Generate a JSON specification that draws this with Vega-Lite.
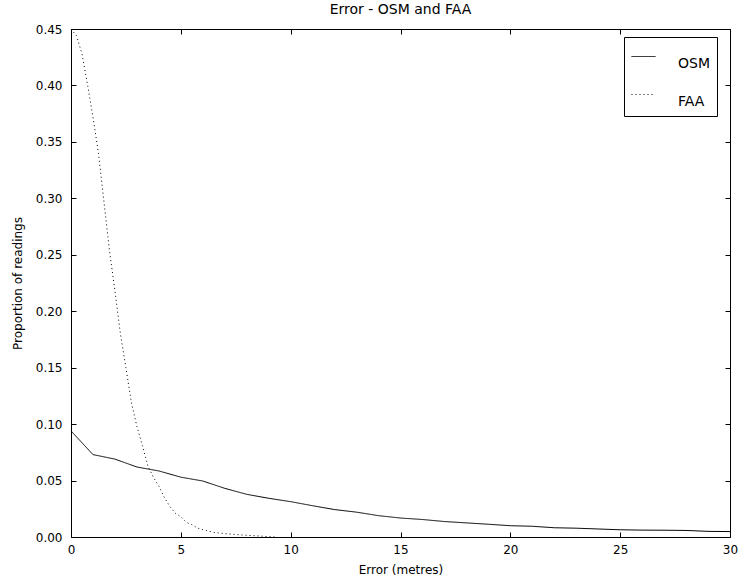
{
  "$schema": "https://vega.github.io/schema/vega-lite/v6.json",
  "width": 659,
  "height": 508,
  "autosize": {"type": "none"},
  "padding": {"left": 71, "top": 29, "right": 8, "bottom": 44},
  "title": {"text": "Error - OSM and FAA", "fontSize": 14, "fontWeight": "normal", "font": "DejaVu Sans", "color": "black", "offset": 6},
  "config": {
    "font": "DejaVu Sans",
    "view": {"stroke": "black", "strokeWidth": 1},
    "axis": {
      "grid": false,
      "domain": false,
      "tickColor": "black",
      "tickSize": -5,
      "labelFlush": false,
      "labelFont": "DejaVu Sans",
      "labelFontSize": 12,
      "labelColor": "black",
      "titleFont": "DejaVu Sans",
      "titleFontSize": 12,
      "titleFontWeight": "normal",
      "titleColor": "black"
    },
    "legend": {
      "orient": "none",
      "legendX": 553,
      "legendY": 8,
      "strokeColor": "black",
      "fillColor": "white",
      "padding": 7,
      "symbolType": "stroke",
      "symbolSize": 576,
      "symbolStrokeWidth": 1,
      "labelFont": "DejaVu Sans",
      "labelFontSize": 14,
      "labelColor": "black",
      "labelBaseline": "top",
      "labelOffset": 22,
      "rowPadding": 11
    }
  },
  "data": {"values": [
    {"series": "OSM", "error": 0, "proportion": 0.094},
    {"series": "OSM", "error": 1, "proportion": 0.073},
    {"series": "OSM", "error": 2, "proportion": 0.069},
    {"series": "OSM", "error": 3, "proportion": 0.062},
    {"series": "OSM", "error": 4, "proportion": 0.0585},
    {"series": "OSM", "error": 5, "proportion": 0.053},
    {"series": "OSM", "error": 6, "proportion": 0.0496},
    {"series": "OSM", "error": 7, "proportion": 0.0431},
    {"series": "OSM", "error": 8, "proportion": 0.0378},
    {"series": "OSM", "error": 9, "proportion": 0.0343},
    {"series": "OSM", "error": 10, "proportion": 0.0313},
    {"series": "OSM", "error": 11, "proportion": 0.0277},
    {"series": "OSM", "error": 12, "proportion": 0.0243},
    {"series": "OSM", "error": 13, "proportion": 0.022},
    {"series": "OSM", "error": 14, "proportion": 0.0189},
    {"series": "OSM", "error": 15, "proportion": 0.0168},
    {"series": "OSM", "error": 16, "proportion": 0.0155},
    {"series": "OSM", "error": 17, "proportion": 0.0137},
    {"series": "OSM", "error": 18, "proportion": 0.0125},
    {"series": "OSM", "error": 19, "proportion": 0.0113},
    {"series": "OSM", "error": 20, "proportion": 0.01},
    {"series": "OSM", "error": 21, "proportion": 0.0095},
    {"series": "OSM", "error": 22, "proportion": 0.0082},
    {"series": "OSM", "error": 23, "proportion": 0.0078},
    {"series": "OSM", "error": 24, "proportion": 0.0071},
    {"series": "OSM", "error": 25, "proportion": 0.0064},
    {"series": "OSM", "error": 26, "proportion": 0.0061},
    {"series": "OSM", "error": 27, "proportion": 0.006},
    {"series": "OSM", "error": 28, "proportion": 0.0058},
    {"series": "OSM", "error": 29, "proportion": 0.005},
    {"series": "OSM", "error": 30, "proportion": 0.0048},
    {"series": "FAA", "error": 0, "proportion": 0.45},
    {"series": "FAA", "error": 0.25, "proportion": 0.444},
    {"series": "FAA", "error": 0.5, "proportion": 0.428},
    {"series": "FAA", "error": 0.75, "proportion": 0.401},
    {"series": "FAA", "error": 1, "proportion": 0.372},
    {"series": "FAA", "error": 1.25, "proportion": 0.34},
    {"series": "FAA", "error": 1.5, "proportion": 0.297},
    {"series": "FAA", "error": 1.75, "proportion": 0.254},
    {"series": "FAA", "error": 2, "proportion": 0.218},
    {"series": "FAA", "error": 2.25, "proportion": 0.18},
    {"series": "FAA", "error": 2.5, "proportion": 0.15},
    {"series": "FAA", "error": 2.75, "proportion": 0.119},
    {"series": "FAA", "error": 3, "proportion": 0.098},
    {"series": "FAA", "error": 3.25, "proportion": 0.081},
    {"series": "FAA", "error": 3.5, "proportion": 0.063},
    {"series": "FAA", "error": 3.75, "proportion": 0.053},
    {"series": "FAA", "error": 4, "proportion": 0.045},
    {"series": "FAA", "error": 4.25, "proportion": 0.035},
    {"series": "FAA", "error": 4.5, "proportion": 0.027},
    {"series": "FAA", "error": 4.75, "proportion": 0.021},
    {"series": "FAA", "error": 5, "proportion": 0.018},
    {"series": "FAA", "error": 5.25, "proportion": 0.013},
    {"series": "FAA", "error": 5.5, "proportion": 0.011},
    {"series": "FAA", "error": 5.75, "proportion": 0.008},
    {"series": "FAA", "error": 6, "proportion": 0.0065},
    {"series": "FAA", "error": 6.5, "proportion": 0.004},
    {"series": "FAA", "error": 7, "proportion": 0.003},
    {"series": "FAA", "error": 7.5, "proportion": 0.0022},
    {"series": "FAA", "error": 8, "proportion": 0.0015},
    {"series": "FAA", "error": 8.5, "proportion": 0.001},
    {"series": "FAA", "error": 9, "proportion": 0.0003},
    {"series": "FAA", "error": 9.3, "proportion": 0.0}
  ]},
  "layer": [
    {
      "mark": {"type": "line", "strokeWidth": 1},
      "encoding": {
        "x": {"field": "error", "type": "quantitative", "scale": {"domain": [0, 30], "nice": false}, "axis": {"orient": "bottom", "title": "Error (metres)", "values": [0, 5, 10, 15, 20, 25, 30], "labelPadding": 12, "titlePadding": 9}},
        "y": {"field": "proportion", "type": "quantitative", "scale": {"domain": [0, 0.45], "nice": false}, "axis": {"orient": "left", "title": "Proportion of readings", "format": ".2f", "values": [0, 0.05, 0.1, 0.15, 0.2, 0.25, 0.3, 0.35, 0.4, 0.45], "labelPadding": 14, "titlePadding": 11}},
        "color": {"field": "series", "type": "nominal", "scale": {"domain": ["OSM", "FAA"], "range": ["black", "black"]}, "legend": {"title": null}},
        "strokeDash": {"field": "series", "type": "nominal", "scale": {"domain": ["OSM", "FAA"], "range": [[1, 0], [1, 3]]}, "legend": {"title": null}}
      }
    },
    {
      "mark": {"type": "line", "strokeOpacity": 0},
      "encoding": {
        "x": {"field": "error", "type": "quantitative", "axis": {"orient": "top", "title": null, "labels": false, "values": [0, 5, 10, 15, 20, 25, 30]}},
        "y": {"field": "proportion", "type": "quantitative", "axis": {"orient": "right", "title": null, "labels": false, "values": [0, 0.05, 0.1, 0.15, 0.2, 0.25, 0.3, 0.35, 0.4, 0.45]}},
        "detail": {"field": "series", "type": "nominal"}
      }
    }
  ],
  "resolve": {"axis": {"x": "independent", "y": "independent"}}
}
